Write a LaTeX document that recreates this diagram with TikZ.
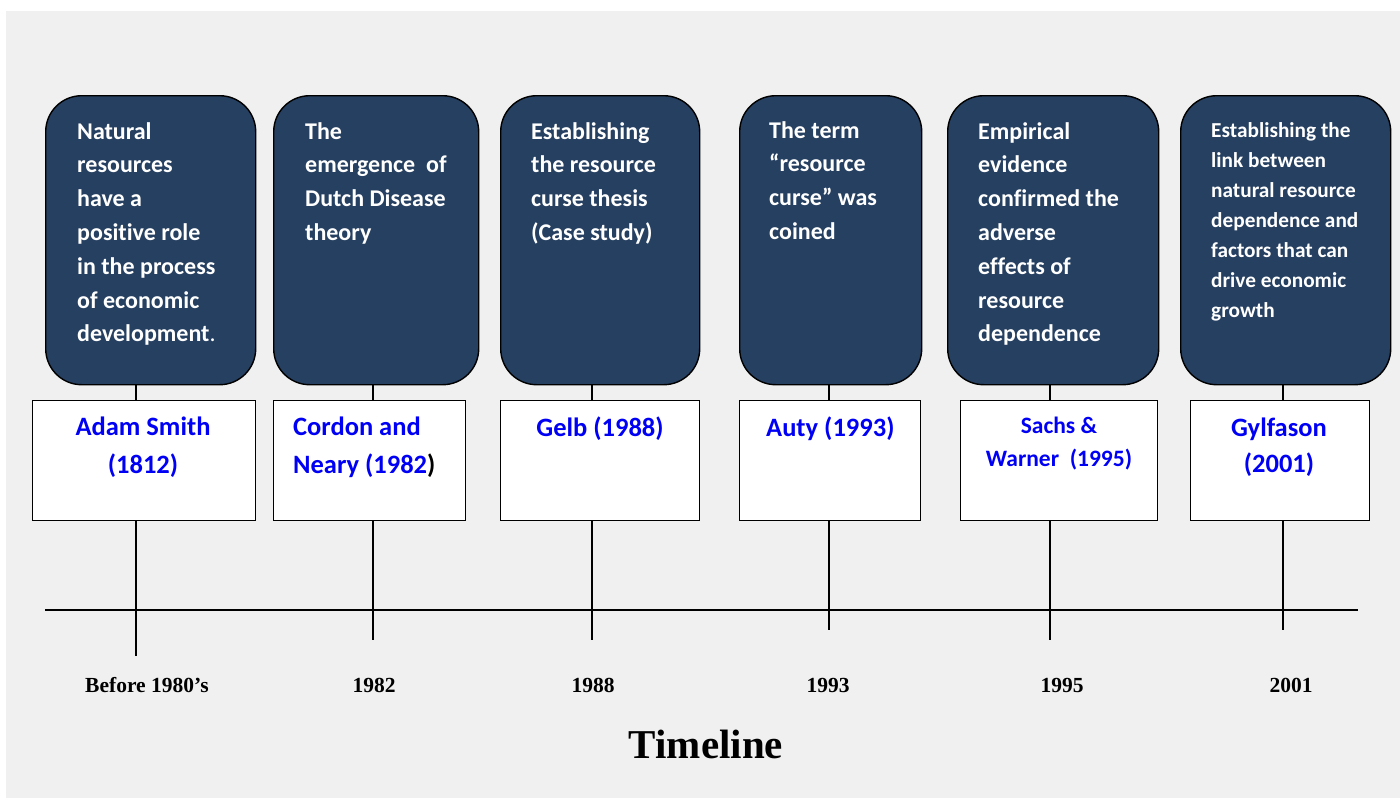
\documentclass[tikz,border=0pt]{standalone}
\usepackage{fontspec}
\setmainfont{Carlito}[Ligatures=NoCommon]
\newfontfamily\yearfont{Liberation Serif}
\definecolor{boxblue}{RGB}{38,64,97}
\definecolor{bggray}{RGB}{240,240,240}
\definecolor{txtblue}{RGB}{0,0,245}
\begin{document}
\begin{tikzpicture}[x=1pt,y=-1pt,
  darkbox/.style={draw=black,line width=1.4pt,fill=boxblue,rounded corners=36pt,anchor=north west,inner sep=0pt},
  namebox/.style={draw=black,line width=1.4pt,fill=white,anchor=north west,inner sep=0pt},
  desc/.style={text=white,font=\fontsize{24}{33.8}\selectfont\bfseries,align=left,anchor=north west,inner sep=0pt},
  descsmall/.style={text=white,font=\fontsize{21.3}{30}\selectfont\bfseries,align=left,anchor=north west,inner sep=0pt},
  who/.style={text=txtblue,font=\fontsize{26.5}{38}\selectfont\bfseries,align=center,anchor=north,inner sep=0pt},
  yearlbl/.style={font=\fontsize{21.5}{24}\yearfont\bfseries,anchor=base,inner sep=0pt},
  link/.style={draw=black,line width=1.2pt}]
\useasboundingbox (0,0) rectangle (1400,800);
\fill[white] (0,0) rectangle (1400,800);
\fill[bggray] (6,11) rectangle (1400,798);

% dark boxes
\node[darkbox,minimum width=210pt,minimum height=289pt] (b1) at (45,95) {};
\node[darkbox,minimum width=205pt,minimum height=289pt] (b2) at (273,95) {};
\node[darkbox,minimum width=199pt,minimum height=289pt] (b3) at (500,95) {};
\node[darkbox,minimum width=182pt,minimum height=289pt] (b4) at (739,95) {};
\node[darkbox,minimum width=211pt,minimum height=289pt] (b5) at (947,95) {};
\node[darkbox,minimum width=210pt,minimum height=289pt] (b6) at (1180,95) {};

% description texts
\node[desc] (t1) at (77,122) {Natural\\resources\\have a\\positive role\\in the process\\of economic\\development{\mdseries .}};
\node[desc] (t2) at (305,122) {The\\emergence\ \ of\\Dutch Disease\\theory};
\node[desc] (t3) at (531,122) {Establishing\\the resource\\curse thesis\\(Case study)};
\node[desc] (t4) at (769,121) {The term\\\char"201C resource\\curse\char"201D{} was\\coined};
\node[desc] (t5) at (978,122) {Empirical\\evidence\\confirmed the\\adverse\\effects of\\resource\\dependence};
\node[descsmall] (t6) at (1211,122) {Establishing the\\link between\\natural resource\\dependence and\\factors that can\\drive economic\\growth};

% name boxes
\node[namebox,minimum width=223pt,minimum height=120pt] (w1) at (32,400) {};
\node[namebox,minimum width=192pt,minimum height=120pt] (w2) at (273,400) {};
\node[namebox,minimum width=199pt,minimum height=120pt] (w3) at (500,400) {};
\node[namebox,minimum width=181pt,minimum height=120pt] (w4) at (739,400) {};
\node[namebox,minimum width=197pt,minimum height=120pt] (w5) at (960,400) {};
\node[namebox,minimum width=179pt,minimum height=120pt] (w6) at (1190,400) {};

\node[who] (n1) at (143,417) {Adam Smith\\(1812)};
\node[who,align=left,anchor=north west] (n2) at (293,417) {Cordon and\\Neary (1982{\color{black})}};
\node[who] (n3) at (600,417) {Gelb (1988)};
\node[who,anchor=north west] (n4) at (766,417) {Auty (1993)};
\node[who,font=\fontsize{23.5}{33}\selectfont\bfseries] (n5) at (1059,417) {Sachs \&\\Warner\ \ (1995)};
\node[who,font=\fontsize{26.5}{36}\selectfont\bfseries] (n6) at (1279,418) {Gylfason\\(2001)};

% tick coordinates (bottom ends)
\coordinate (k1) at (136,656);
\coordinate (k2) at (373,640);
\coordinate (k3) at (592,640);
\coordinate (k4) at (829,630);
\coordinate (k5) at (1050,640);
\coordinate (k6) at (1283,630);

\foreach \i in {1,...,6}{
  \draw[link] (k\i |- b\i.south) -- (k\i |- w\i.north);
  \draw[link] (k\i |- w\i.south) -- (k\i);
}

% timeline axis
\coordinate (tl) at (45,610);
\coordinate (tr) at (1358,610);
\draw[link] (tl) -- (tr);

% year labels
\node[yearlbl] (y1) at (147,692) {Before 1980\char"2019 s};
\node[yearlbl] (y2) at (374,692) {1982};
\node[yearlbl] (y3) at (593,692) {1988};
\node[yearlbl] (y4) at (828,692) {1993};
\node[yearlbl] (y5) at (1062,692) {1995};
\node[yearlbl] (y6) at (1291,692) {2001};

\node[font=\fontsize{41}{44}\yearfont\bfseries,anchor=base,inner sep=0pt] (title) at (706,758) {Timeline};
\end{tikzpicture}
\end{document}
